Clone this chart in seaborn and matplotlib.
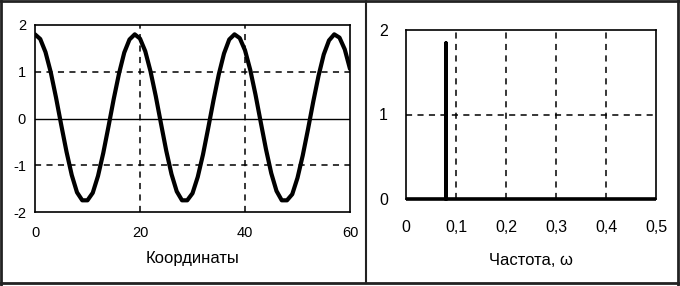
import matplotlib
matplotlib.use("Agg")
import matplotlib.pyplot as plt
from matplotlib.lines import Line2D
import seaborn as sns
import pandas as pd

# ---- data ----
coords = list(range(0, 61))
signal = [1.80, 1.70, 1.42, 0.99, 0.45, -0.14, -0.71, -1.21, -1.58, -1.75,
          -1.75, -1.59, -1.23, -0.74, -0.17, 0.42, 0.96, 1.41, 1.69, 1.80,
          1.71, 1.44, 1.01, 0.48, -0.11, -0.69, -1.19, -1.56, -1.75, -1.75,
          -1.60, -1.25, -0.77, -0.20, 0.39, 0.94, 1.39, 1.69, 1.80, 1.72,
          1.46, 1.04, 0.51, -0.08, -0.66, -1.17, -1.55, -1.75, -1.75, -1.62,
          -1.27, -0.79, -0.23, 0.36, 0.91, 1.37, 1.67, 1.80, 1.73, 1.48, 1.06]

freqs = [0.0, 0.079, 0.079, 0.079, 0.5]
amplitudes = [0.0, 0.0, 1.85, 0.0, 0.0]

left_xticks = [0, 20, 40, 60]
left_yticks = [-2, -1, 0, 1, 2]
right_xticks = [0, 0.1, 0.2, 0.3, 0.4, 0.5]
right_xticklabels = ["0", "0,1", "0,2", "0,3", "0,4", "0,5"]
right_yticks = [0, 1, 2]
left_xlabel = "Координаты"
right_xlabel = "Частота, ω"

sns.set_style("white")
plt.rcParams["font.family"] = ["Liberation Sans", "DejaVu Sans"]
plt.rcParams["axes.unicode_minus"] = False

fig = plt.figure(figsize=(6.8, 2.86), dpi=100)
W, H = 680, 286

def px_axes(x0, x1, ytop, ybot):
    return fig.add_axes([x0 / W, 1 - ybot / H, (x1 - x0) / W, (ybot - ytop) / H])

ax1 = px_axes(35, 350, 25, 212)
ax2 = px_axes(406, 656, 30, 199)

dash = (0, (4, 3.5))

# ---- left panel ----
df1 = pd.DataFrame({"x": coords, "y": signal})
sns.lineplot(data=df1, x="x", y="y", ax=ax1, color="black", linewidth=3.0,
             estimator=None, sort=False, zorder=5)
ax1.set_xlim(0, 60)
ax1.set_ylim(-2, 2)
ax1.set_xticks(left_xticks)
ax1.set_yticks(left_yticks)
for yv in (-1, 1):
    ax1.axhline(yv, color="black", linewidth=1.1, linestyle=dash, zorder=1)
for xv in (20, 40):
    ax1.axvline(xv, color="black", linewidth=1.1, linestyle=dash, zorder=1)
ax1.axhline(0, color="black", linewidth=1.0, zorder=2)
ax1.tick_params(axis="y", direction="inout", length=5, width=1, pad=4,
                labelsize=10.5, colors="black")
ax1.tick_params(axis="x", length=0, pad=10, labelsize=10.5, colors="black")
ax1.set_xlabel(left_xlabel, fontsize=12, labelpad=8, color="black")
ax1.set_ylabel("")

# ---- right panel ----
df2 = pd.DataFrame({"f": freqs, "a": amplitudes})
sns.lineplot(data=df2, x="f", y="a", ax=ax2, color="black", linewidth=2.6,
             estimator=None, sort=False, zorder=5, solid_capstyle="butt",
             clip_on=False)
ax2.set_xlim(0, 0.5)
ax2.set_ylim(0, 2)
ax2.set_xticks(right_xticks)
ax2.set_xticklabels(right_xticklabels)
ax2.set_yticks(right_yticks)
ax2.axhline(1, color="black", linewidth=1.1, linestyle=dash, zorder=1)
for xv in (0.1, 0.2, 0.3, 0.4):
    ax2.axvline(xv, color="black", linewidth=1.1, linestyle=dash, zorder=1)
ax2.tick_params(axis="both", direction="inout", length=6, width=1,
                labelsize=11.5, colors="black")
ax2.tick_params(axis="x", pad=12)
ax2.tick_params(axis="y", pad=10)
ax2.set_xlabel(right_xlabel, fontsize=12, labelpad=13, color="black")
ax2.set_ylabel("")

for ax in (ax1, ax2):
    for s in ax.spines.values():
        s.set_visible(True)
        s.set_color("black")
        s.set_linewidth(1.2)

# ---- outer frame and divider ----
lw = 2.0
fig.add_artist(Line2D([1 / W, 1 / W], [0, 1], transform=fig.transFigure, color="#222222", linewidth=lw))
fig.add_artist(Line2D([678 / W, 678 / W], [0, 1], transform=fig.transFigure, color="#222222", linewidth=lw))
fig.add_artist(Line2D([0, 1], [1 - 1 / H, 1 - 1 / H], transform=fig.transFigure, color="#222222", linewidth=lw))
fig.add_artist(Line2D([0, 1], [1 - 283 / H, 1 - 283 / H], transform=fig.transFigure, color="#222222", linewidth=lw))
fig.add_artist(Line2D([366 / W, 366 / W], [1 - 283 / H, 1 - 1 / H], transform=fig.transFigure, color="#222222", linewidth=1.5))

fig.savefig("out.png", dpi=100, facecolor="white")
